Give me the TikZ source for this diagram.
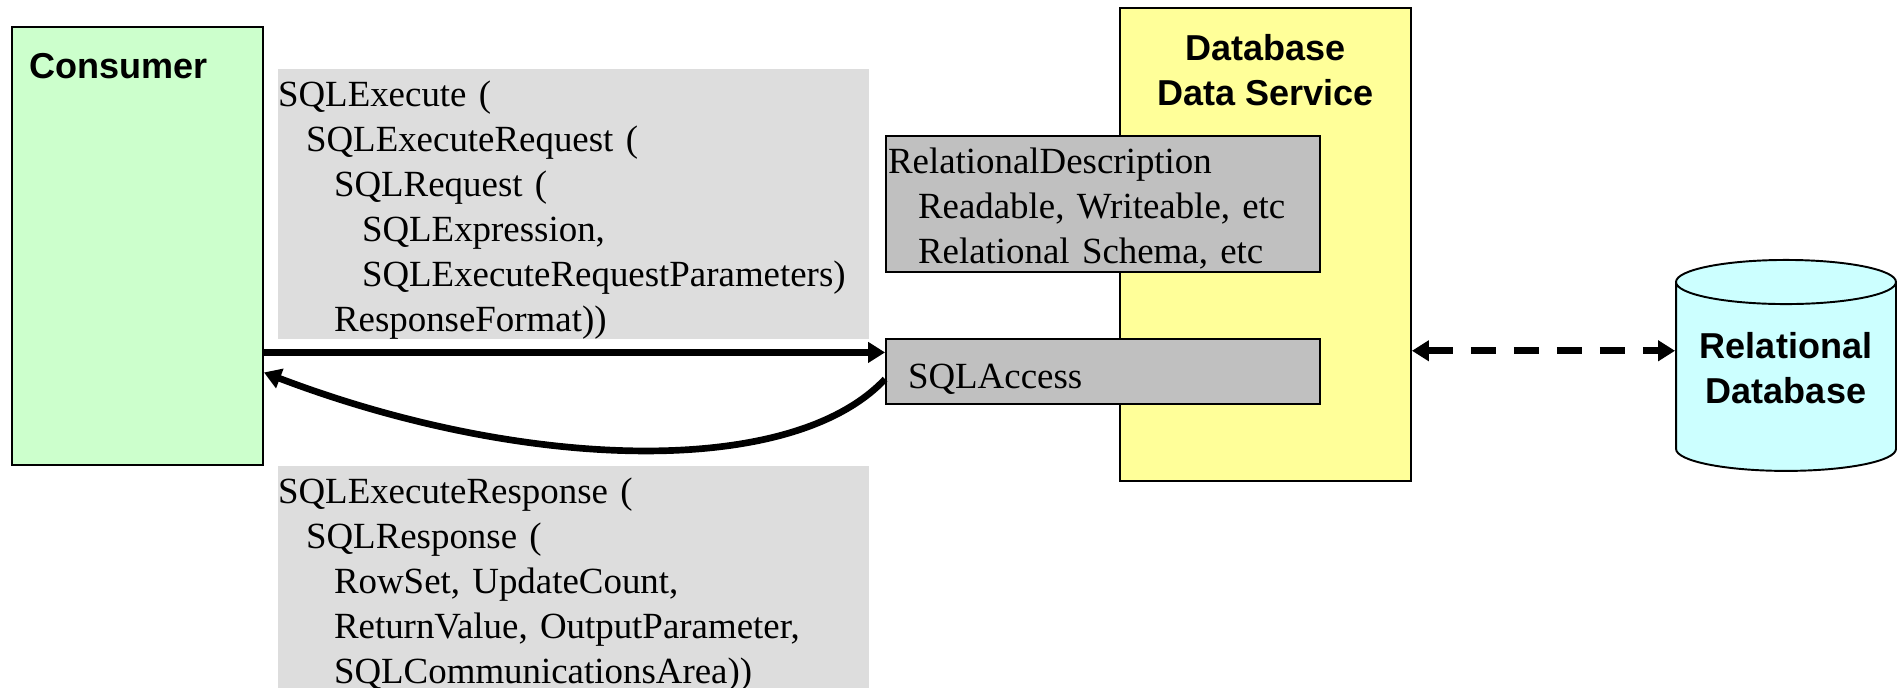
\documentclass[tikz,border=0pt]{standalone}
\usepackage{fontspec}
\setmainfont{Liberation Serif}
\setsansfont{Liberation Sans}
\usepackage{tikz}
\usetikzlibrary{arrows.meta, positioning, shapes.geometric}
\definecolor{consumergreen}{HTML}{CCFFCC}
\definecolor{serviceyellow}{HTML}{FFFF99}
\definecolor{boxgray}{HTML}{C0C0C0}
\definecolor{msggray}{HTML}{DDDDDD}
\definecolor{dbcyan}{HTML}{CCFFFF}
\newcommand{\ind}{\hspace*{0.56cm}}
\newcommand{\topgap}[1]{\rule{0pt}{#1}}

\begin{document}
\begin{tikzpicture}[x=0.02cm, y=-0.02cm,
titlefont/.style={font=\sffamily\bfseries\fontsize{20.5}{25.6}\selectfont},
msgfont/.style={font=\rmfamily\fontsize{21}{25.6}\selectfont},
block/.style={rectangle, draw=black, line width=1.1pt},
msgbox/.style={rectangle, fill=msggray, inner xsep=0pt, inner ysep=0pt, anchor=north,
    minimum width=11.82cm, text width=11.82cm, align=left, msgfont},
opbox/.style={block, fill=boxgray, minimum width=8.68cm, align=left, msgfont},
flow/.style={line width=3.8pt, ->},
>={Triangle[length=0.34cm, width=0.4cm]}]

  \useasboundingbox (0,0) rectangle (1898,688);

  % consumer and service
  \node[block, fill=consumergreen, minimum width=5.02cm, minimum height=8.76cm,
    label={[titlefont, anchor=north west, inner sep=0pt, xshift=0.36cm, yshift=-0.53cm]north west:Consumer}]
    (consumer) at (137.5,246) {};
  \node[block, fill=serviceyellow, minimum width=5.82cm, minimum height=9.46cm,
    label={[titlefont, anchor=north, inner sep=0pt, align=center, yshift=-0.54cm]north:Database\\Data Service}]
    (service) at (1265.5,244.5) {};

  % operations of the service
  \node[opbox, anchor=north, minimum height=2.72cm, inner xsep=1pt, inner ysep=0pt, text width=8.6cm]
    (reldesc) at (1103,135)
    {\topgap{0.7cm}RelationalDescription\\
     \hspace*{0.6cm}Readable, Writeable, etc\\
     \hspace*{0.6cm}Relational Schema, etc};
  \node[opbox, minimum height=1.3cm, inner xsep=0.44cm, text width=7.8cm,
    text height=0.84cm, text depth=0.15cm] (sqlaccess) at (1103,371.5)
    {SQLAccess};

  % messages
  \node[msgbox, minimum height=5.38cm] (request) at (573.5,69)
    {\topgap{0.74cm}SQLExecute (\\
     \ind SQLExecuteRequest (\\
     \ind\ind SQLRequest (\\
     \ind\ind\ind SQLExpression,\\
     \ind\ind\ind SQLExecuteRequestParameters)\\
     \ind\ind ResponseFormat))};
  \node[msgbox] (response) at (573.5,466)
    {\topgap{0.74cm}SQLExecuteResponse (\\
     \ind SQLResponse (\\
     \ind\ind RowSet, UpdateCount,\\
     \ind\ind ReturnValue, OutputParameter,\\
     \ind\ind SQLCommunicationsArea))};

  % database
  \node[cylinder, shape border rotate=90, shape aspect=0.24, draw=black, line width=1.1pt,
    fill=dbcyan, minimum width=4.4cm, minimum height=4.22cm, align=center, titlefont]
    (reldb) at (1786,380.5) {Relational\\Database\rule[-0.52cm]{0pt}{0pt}};

  \draw[flow] (consumer.east |- sqlaccess.175) -- (sqlaccess.175);
  \draw[flow] (sqlaccess.182) .. controls (790,480) and (520,470) .. (consumer.-45);
  \draw[flow, <->, dash pattern=on 0.5cm off 0.36cm] (service.east |- reldb.165) -- (reldb.165);

\end{tikzpicture}
\end{document}
